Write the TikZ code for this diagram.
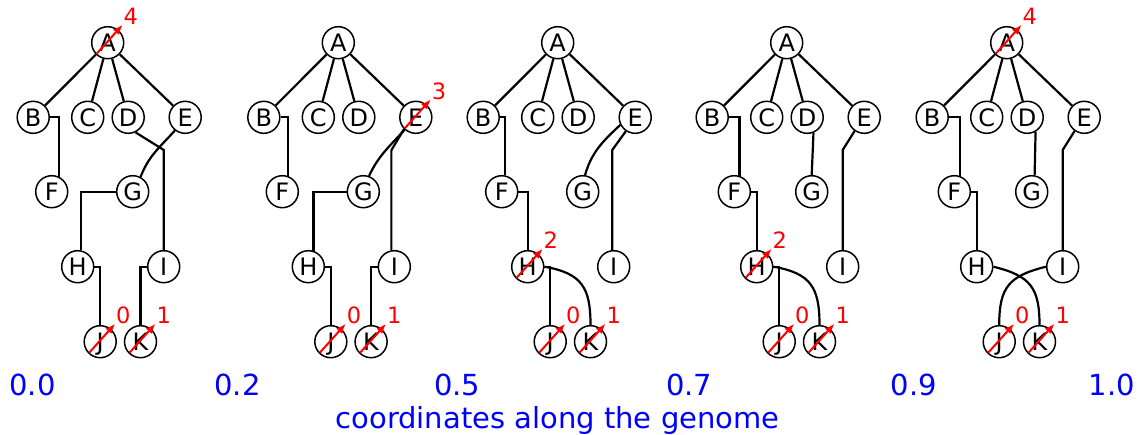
\documentclass[tikz,border=0pt]{standalone}
\usepackage{fontspec}
\setmainfont{DejaVu Sans}
\usetikzlibrary{arrows.meta,calc}

\tikzset{
  vertex/.style={draw, circle, fill=white, line width=1.5pt, minimum size=32pt,
    inner sep=0pt, text height=17.4pt, text depth=0pt, font=\fontsize{24}{28}\selectfont},
  edge/.style={line width=2.2pt},
  mut/.style={red, line width=2pt, ->},
  mutlabel/.style={red, anchor=base west, inner sep=0pt, font=\fontsize{22.5}{26}\selectfont},
  coordlabel/.style={blue, anchor=base, inner sep=0pt, font=\fontsize{29}{34}\selectfont}
}

\begin{document}
\begin{tikzpicture}[
                x=1pt, y=-1pt,
                >={Latex[length=10pt,width=8pt]}
                ]
                \useasboundingbox (0,0) rectangle (1145,434);

                % the five local trees
                \foreach \t/\ax/\fx in {1/107.7/-56, 2/338.3/-56, 3/557.7/-56, 4/786.7/-52.4, 5/1006.7/-52.4} {
                    \node [vertex] (A\t) at (\ax,42.7) {A};
                    \node [vertex] (B\t) at (\ax-74.5,117.3) {B};
                    \node [vertex] (C\t) at (\ax-20,117.3) {C};
                    \node [vertex] (D\t) at (\ax+20.5,117.3) {D};
                    \node [vertex] (E\t) at (\ax+77.5,117.3) {E};
                    \node [vertex] (F\t) at (\ax+\fx,191.7) {F};
                    \node [vertex] (G\t) at (\ax+25,191.7) {G};
                    \node [vertex] (H\t) at (\ax-30,266.7) {H};
                    \node [vertex] (I\t) at (\ax+56,266.7) {I};
                    \node [vertex] (J\t) at (\ax-7.5,341.7) {J};
                    \node [vertex] (K\t) at (\ax+32.8,341.7) {K};
                    \draw [edge] (A\t) -- (B\t);
                    \draw [edge] (A\t) -- (C\t);
                    \draw [edge] (A\t) -- (D\t);
                    \draw [edge] (A\t) -- (E\t);
                }

                % tree 1
                \draw [edge] (B1.east) -| (F1.63);
                \draw [edge] (D1.-64) -- ($(I1.north)+(0,-100)$) -- (I1.north);
                \draw [edge] (E1.232) to[out=228, in=69] (G1.62);
                \draw [edge] (G1.west) -| (H1.78);
                \draw [edge] (H1.east) -| (J1.north);
                \draw [edge] (I1.west) -| (K1.north);

                % tree 2
                \draw [edge] (B2.east) -| (F2.70);
                \draw [edge] (E2.228) to[out=228, in=65] (G2.70);
                \draw [edge] (E2.225) -- ($(I2.100)+(0,-100)$) -- (I2.100);
                \draw [edge] (G2.west) -| (H2.72);
                \draw [edge] (H2.east) -| (J2.north);
                \draw [edge] (I2.west) -| (K2.north);

                % tree 3
                \draw [edge] (B3.east) -| (F3.78);
                \draw [edge] (E3.207) to[out=223, in=74] (G3.82);
                \draw [edge] (E3.236) -- ($(I3.95)+(0,-100)$) -- (I3.95);
                \draw [edge] (F3.east) -| (H3.north);
                \draw [edge] (H3.east) -| (J3.north);
                \draw [edge] (H3.east) to[out=-10, in=90, looseness=1.3] (K3.north);

                % tree 4
                \draw [edge] (B4.east) -| (F4.72);
                \draw [edge] (D4.-68) -- (G4.north);
                \draw [edge] (E4.235) -- ($(I4.north)+(0,-100)$) -- (I4.north);
                \draw [edge] (F4.east) -| (H4.north);
                \draw [edge] (H4.east) -| (J4.north);
                \draw [edge] (H4.east) to[out=-10, in=90, looseness=1.3] (K4.north);

                % tree 5
                \draw [edge] (B5.east) -| (F5.70);
                \draw [edge] (D5.-60) -- (G5.80);
                \draw [edge] (E5.235) -- ($(I5.north)+(0,-100)$) -- (I5.north);
                \draw [edge] (F5.east) -| (H5.north);
                \draw [edge] (H5.east) to[out=-14, in=90, looseness=1.3] (K5.north);
                \draw [edge] (I5.west) to[out=194, in=90, looseness=1.3] (J5.north);

                % mutations
                \foreach \n/\m in {A1/4, J1/0, K1/1, E2/3, J2/0, K2/1, H3/2, J3/0, K3/1,
                                   H4/2, J4/0, K4/1, A5/4, J5/0, K5/1}
                    \draw [mut] ($(\n)+(-11,11)$) -- ($(\n)+(15,-18)$) node [mutlabel] (m\n) {\m};

                % genome coordinates
                \node [coordlabel] (p0) at (32.5,395) {0.0};
                \node [coordlabel] (p1) at (237.5,395) {0.2};
                \node [coordlabel] (p2) at (457.2,395) {0.5};
                \node [coordlabel] (p3) at (689.2,395) {0.7};
                \node [coordlabel] (p4) at (914,395) {0.9};
                \node [coordlabel] (p5) at (1112,395) {1.0};
                \node [coordlabel] (axis) at (557.5,428.3) {coordinates along the genome};
            \end{tikzpicture}
\end{document}
